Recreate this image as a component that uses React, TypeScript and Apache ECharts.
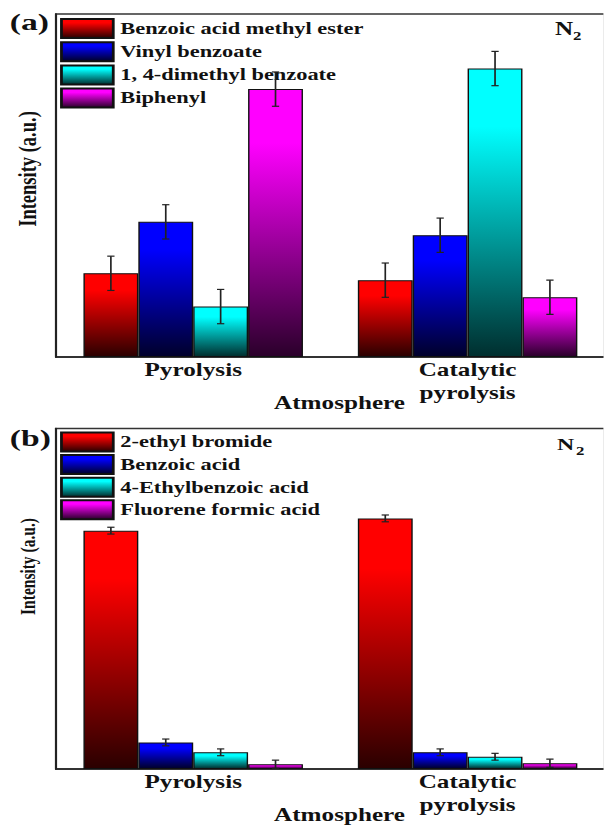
import React, { useEffect, useRef } from "react";
import * as echarts from "echarts";

const S = 1.4; // horizontal stretch of the original figure
const W = 604 / S;
const H = 825;

const categories = ["Pyrolysis", "Catalytic\npyrolysis"];

const seriesA = ["Benzoic acid methyl ester", "Vinyl benzoate", "1, 4-dimethyl benzoate", "Biphenyl"];
const valuesA = [
  [24.4, 22.4],
  [39.4, 35.5],
  [14.7, 84.1],
  [78.1, 17.4],
];
const errorsA = [
  [5.0, 5.0],
  [5.0, 5.0],
  [5.0, 5.0],
  [5.0, 5.0],
];

const seriesB = ["2-ethyl bromide", "Benzoic acid", "4-Ethylbenzoic acid", "Fluorene formic acid"];
const valuesB = [
  [70.0, 73.6],
  [7.8, 4.9],
  [4.9, 3.6],
  [1.4, 1.7],
];
const errorsB = [
  [1.0, 1.0],
  [1.0, 1.0],
  [1.0, 1.0],
  [1.2, 1.2],
];

const colors = ["#ff0000", "#0000ff", "#00ffff", "#ff00ff"];
const darks = ["#2a0000", "#00002a", "#002e2e", "#2a002a"];

const FONT = '"Liberation Serif", "Times New Roman", serif';

function grad(i: number) {
  return new echarts.graphic.LinearGradient(0, 0, 0, 1, [
    { offset: 0, color: colors[i] },
    { offset: 0.2, color: colors[i] },
    { offset: 1, color: darks[i] },
  ]);
}

function errorRender(params: any, api: any) {
  const cat = api.value(0);
  const v = api.value(1);
  const e = api.value(2);
  const k = api.value(3);
  const band = api.size([1, 0])[0];
  const bw = band * 0.2;
  const cx = api.coord([cat, v])[0] + (k - 1.5) * bw;
  const yTop = api.coord([cat, v + e])[1];
  const yBot = api.coord([cat, v - e])[1];
  const h = 2.6;
  const style = { stroke: "#222", lineWidth: 1.2 };
  return {
    type: "group",
    children: [
      { type: "line", shape: { x1: cx, y1: yTop, x2: cx, y2: yBot }, style },
      { type: "line", shape: { x1: cx - h, y1: yTop, x2: cx + h, y2: yTop }, style },
      { type: "line", shape: { x1: cx - h, y1: yBot, x2: cx + h, y2: yBot }, style },
    ],
  };
}

function buildPanel(names: string[], values: number[][], errors: number[][], idx: number) {
  const bars = names.map((n, i) => ({
    name: n,
    type: "bar",
    xAxisIndex: idx,
    yAxisIndex: idx,
    barCategoryGap: "20%",
    barGap: "0%",
    data: values[i],
    itemStyle: { color: grad(i), borderColor: "#111", borderWidth: 1 },
    z: 2,
  }));
  const errData: number[][] = [];
  names.forEach((_, i) => {
    values[i].forEach((v, c) => errData.push([c, v, errors[i][c], i]));
  });
  const err = {
    type: "custom",
    xAxisIndex: idx,
    yAxisIndex: idx,
    renderItem: errorRender,
    encode: { x: 0, y: 1 },
    data: errData,
    z: 5,
    silent: true,
  };
  return [...bars, err];
}

const textBase = { fontFamily: FONT, fontWeight: "bold", fill: "#111" };

export default function App() {
  const ref = useRef<HTMLDivElement>(null);
  useEffect(() => {
    if (!ref.current) return;
    const chart = echarts.init(ref.current, undefined, { renderer: "svg" });
    const xAxisCommon = {
      type: "category",
      data: categories,
      axisTick: { show: false },
      axisLine: { lineStyle: { color: "#222", width: 1.5 } },
      axisLabel: {
        fontFamily: FONT,
        fontWeight: "bold",
        fontSize: 18,
        color: "#111",
        margin: 1,
        lineHeight: 23,
      },
      name: "Atmosphere",
      nameLocation: "middle",
      nameGap: 37,
      nameMoveOverlap: false,
      nameTextStyle: {
        fontFamily: FONT,
        fontWeight: "bold",
        fontSize: 18,
        color: "#111",
        padding: [0, 0, 0, 13],
      },
    };
    const yAxisCommon = {
      type: "value",
      min: 0,
      max: 100,
      axisLine: { show: true, lineStyle: { color: "#222", width: 1.5 } },
      axisTick: { show: false },
      axisLabel: { show: false },
      splitLine: { show: false },
    };
    const legendCommon = {
      orient: "vertical",
      left: 42.9,
      padding: 0,
      itemWidth: 37,
      itemHeight: 19,
      icon: "rect",
      textStyle: { fontFamily: FONT, fontWeight: "bold", fontSize: 16, lineHeight: 19, color: "#111" },
      selectedMode: false,
    };
    const gridCommon = {
      left: 40,
      right: -1,
      show: true,
      borderColor: "#333",
      borderWidth: 1.5,
      outerBoundsMode: "none",
      containLabel: false,
    };
    chart.setOption({
      animation: false,
      grid: [
        { ...gridCommon, top: 14, height: 343 },
        { ...gridCommon, top: 428.5, height: 340.5 },
      ],
      xAxis: [
        { ...xAxisCommon, gridIndex: 0 },
        { ...xAxisCommon, gridIndex: 1 },
      ],
      yAxis: [
        { ...yAxisCommon, gridIndex: 0 },
        { ...yAxisCommon, gridIndex: 1 },
      ],
      legend: [
        { ...legendCommon, top: 18, itemGap: 2.2, data: seriesA },
        { ...legendCommon, top: 431.5, itemGap: 1.6, data: seriesB },
      ],
      graphic: [
        { type: "text", left: 7, top: 10, style: { ...textBase, text: "(a)", fontSize: 24 } },
        { type: "text", left: 7, top: 426, style: { ...textBase, text: "(b)", fontSize: 24 } },
        { type: "text", left: 396.4, top: 20, style: { ...textBase, text: "N", fontSize: 18 } },
        { type: "text", left: 409.3, top: 30, style: { ...textBase, text: "2", fontSize: 12 } },
        { type: "text", left: 397.9, top: 436, style: { ...textBase, text: "N", fontSize: 17 } },
        { type: "text", left: 411.5, top: 445, style: { ...textBase, text: "2", fontSize: 12 } },
        {
          type: "text",
          x: 19.5,
          y: 169,
          rotation: Math.PI / 2,
          style: { ...textBase, text: "Intensity (a.u.)", fontSize: 18.5, align: "center", verticalAlign: "middle" },
        },
        {
          type: "text",
          x: 19.5,
          y: 566.5,
          rotation: Math.PI / 2,
          style: { ...textBase, text: "Intensity (a.u.)", fontSize: 15.5, align: "center", verticalAlign: "middle" },
        },
      ],
      series: [...buildPanel(seriesA, valuesA, errorsA, 0), ...buildPanel(seriesB, valuesB, errorsB, 1)],
    });
    return () => chart.dispose();
  }, []);
  return (
    <div
      ref={ref}
      style={{
        position: "absolute",
        left: 0,
        top: 0,
        width: W,
        height: H,
        transform: `scaleX(${S})`,
        transformOrigin: "0 0",
      }}
    />
  );
}
